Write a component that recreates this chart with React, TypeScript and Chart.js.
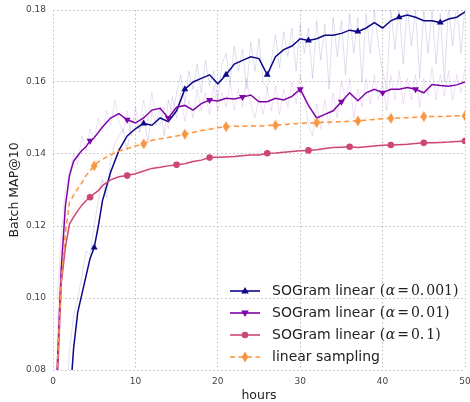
import React, { useEffect, useRef } from 'react';
import { Chart, registerables } from 'chart.js';

Chart.register(...registerables);

// ---- data ----
const hours = [0, 0.5, 1, 1.5, 2, 2.5, 3, 3.5, 4, 4.5, 5, 5.5, 6, 7, 8, 9, 10, 11, 12, 13, 14, 15, 16, 17, 18, 19, 20, 21, 22, 23, 24, 25, 26, 27, 28, 29, 30, 31, 32, 33, 34, 35, 36, 37, 38, 39, 40, 41, 42, 43, 44, 45, 46, 47, 48, 49, 50];

const blueVals = [0.03, 0.04, 0.05, 0.06, 0.07, 0.086, 0.096, 0.101, 0.106, 0.111, 0.114, 0.12, 0.127, 0.135, 0.141, 0.145, 0.147, 0.1485, 0.148, 0.15, 0.149, 0.152, 0.158, 0.16, 0.161, 0.162, 0.1595, 0.162, 0.165, 0.166, 0.167, 0.1665, 0.162, 0.167, 0.169, 0.17, 0.172, 0.1715, 0.172, 0.173, 0.173, 0.1735, 0.1744, 0.174, 0.175, 0.1765, 0.175, 0.177, 0.178, 0.1786, 0.178, 0.177, 0.177, 0.1765, 0.1775, 0.178, 0.1795];

const purpleVals = [0.04, 0.08, 0.108, 0.1255, 0.134, 0.138, 0.1395, 0.141, 0.142, 0.1437, 0.1445, 0.146, 0.1475, 0.15, 0.1512, 0.1495, 0.1486, 0.15, 0.1522, 0.1527, 0.15, 0.153, 0.1535, 0.1522, 0.154, 0.155, 0.1547, 0.1555, 0.1553, 0.1558, 0.1564, 0.1545, 0.1545, 0.1555, 0.155, 0.156, 0.158, 0.1535, 0.15, 0.151, 0.152, 0.1545, 0.157, 0.1548, 0.157, 0.158, 0.157, 0.158, 0.158, 0.1585, 0.158, 0.157, 0.1593, 0.159, 0.1588, 0.1592, 0.16];

const pinkVals = [0.04, 0.075, 0.104, 0.114, 0.1205, 0.1225, 0.1242, 0.1258, 0.127, 0.128, 0.129, 0.1298, 0.1312, 0.1328, 0.1337, 0.134, 0.1345, 0.1353, 0.136, 0.1363, 0.1367, 0.137, 0.1373, 0.1379, 0.1383, 0.139, 0.1391, 0.1392, 0.1393, 0.1395, 0.1397, 0.1397, 0.1402, 0.1403, 0.1405, 0.1407, 0.1409, 0.141, 0.1412, 0.1415, 0.1418, 0.1419, 0.142, 0.1418, 0.142, 0.1422, 0.1424, 0.1425, 0.1426, 0.1427, 0.1429, 0.1431, 0.1431, 0.1432, 0.1433, 0.1435, 0.1436];

const orangeVals = [0.05, 0.08, 0.105, 0.118, 0.1265, 0.1285, 0.1303, 0.132, 0.134, 0.1353, 0.1367, 0.1378, 0.1385, 0.1398, 0.1408, 0.1415, 0.1422, 0.1428, 0.1438, 0.1442, 0.1446, 0.145, 0.1455, 0.146, 0.1465, 0.1469, 0.1473, 0.1476, 0.1477, 0.1477, 0.1478, 0.1478, 0.1479, 0.148, 0.1482, 0.1484, 0.1485, 0.1486, 0.1487, 0.1488, 0.1489, 0.149, 0.1491, 0.1492, 0.1494, 0.1496, 0.1498, 0.1499, 0.15, 0.1501, 0.1502, 0.1504, 0.1504, 0.1504, 0.1505, 0.1506, 0.1506];

// hours at which each smoothed curve carries a marker
const blueMarks = [5, 11, 16, 21, 26, 31, 37, 42, 47];
const purpleMarks = [4.5, 9, 14, 19, 23, 30, 35, 40, 44];
const pinkMarks = [4.5, 9, 15, 19, 26, 31, 36, 41, 45, 50];
const orangeMarks = [5, 11, 16, 21, 27, 32, 37, 41, 45, 50];

// raw (unsmoothed) batch values
const rawHours = [0.5, 1, 1.5, 2, 2.5, 3, 3.5, 4, 4.5, 5, 5.5, 6, 6.5, 7, 7.5, 8, 8.5, 9, 9.5, 10, 10.5, 11, 11.5, 12, 12.5, 13, 13.5, 14, 14.5, 15, 15.5, 16, 16.5, 17, 17.5, 18, 18.5, 19, 19.5, 20, 20.5, 21, 21.5, 22, 22.5, 23, 23.5, 24, 24.5, 25, 25.5, 26, 26.5, 27, 27.5, 28, 28.5, 29, 29.5, 30, 30.5, 31, 31.5, 32, 32.5, 33, 33.5, 34, 34.5, 35, 35.5, 36, 36.5, 37, 37.5, 38, 38.5, 39, 39.5, 40, 40.5, 41, 41.5, 42, 42.5, 43, 43.5, 44, 44.5, 45, 45.5, 46, 46.5, 47, 47.5, 48, 48.5, 49, 49.5, 50];

const blueRaw = [0.05, 0.06, 0.07, 0.085, 0.095, 0.1, 0.106, 0.113, 0.112, 0.12, 0.127, 0.133, 0.128, 0.138, 0.143, 0.145, 0.147, 0.141, 0.149, 0.15, 0.146, 0.151, 0.143, 0.152, 0.148, 0.153, 0.145, 0.155, 0.151, 0.157, 0.162, 0.154, 0.163, 0.158, 0.165, 0.157, 0.166, 0.159, 0.163, 0.155, 0.165, 0.168, 0.16, 0.17, 0.163, 0.169, 0.158, 0.171, 0.163, 0.172, 0.16, 0.158, 0.166, 0.173, 0.164, 0.174, 0.167, 0.175, 0.163, 0.176, 0.168, 0.175, 0.161, 0.177, 0.166, 0.176, 0.158, 0.178, 0.167, 0.177, 0.162, 0.179, 0.168, 0.178, 0.16, 0.179, 0.168, 0.18, 0.17, 0.163, 0.158, 0.18, 0.169, 0.181, 0.165, 0.181, 0.17, 0.18, 0.161, 0.18, 0.168, 0.18, 0.165, 0.179, 0.16, 0.181, 0.17, 0.182, 0.168, 0.181];

const purpleRaw = [0.1, 0.118, 0.13, 0.135, 0.14, 0.137, 0.145, 0.141, 0.147, 0.144, 0.15, 0.146, 0.152, 0.148, 0.155, 0.149, 0.146, 0.152, 0.145, 0.153, 0.147, 0.155, 0.149, 0.157, 0.15, 0.148, 0.153, 0.147, 0.156, 0.15, 0.157, 0.149, 0.155, 0.15, 0.158, 0.152, 0.157, 0.151, 0.159, 0.152, 0.157, 0.153, 0.16, 0.152, 0.158, 0.153, 0.161, 0.154, 0.15, 0.156, 0.151, 0.158, 0.152, 0.159, 0.151, 0.158, 0.153, 0.16, 0.154, 0.162, 0.156, 0.148, 0.145, 0.154, 0.147, 0.155, 0.148, 0.157, 0.15, 0.16, 0.155, 0.161, 0.15, 0.158, 0.153, 0.161, 0.154, 0.162, 0.155, 0.16, 0.152, 0.162, 0.155, 0.163, 0.154, 0.161, 0.155, 0.162, 0.153, 0.161, 0.156, 0.164, 0.155, 0.162, 0.156, 0.163, 0.155, 0.162, 0.157, 0.164];

const pinkRaw = [0.09, 0.108, 0.117, 0.122, 0.124, 0.1255, 0.127, 0.1285, 0.129, 0.1305, 0.13, 0.1325, 0.132, 0.1338, 0.1333, 0.1345, 0.134, 0.1352, 0.1345, 0.1358, 0.135, 0.1365, 0.1357, 0.137, 0.1362, 0.1375, 0.1365, 0.1378, 0.1368, 0.1383, 0.1372, 0.1385, 0.1376, 0.139, 0.138, 0.1395, 0.1385, 0.14, 0.1388, 0.1402, 0.139, 0.1403, 0.139, 0.1405, 0.1392, 0.1406, 0.1394, 0.1408, 0.1395, 0.141, 0.1398, 0.1412, 0.14, 0.1413, 0.1401, 0.1415, 0.1403, 0.1417, 0.1405, 0.1419, 0.1407, 0.142, 0.1408, 0.1422, 0.141, 0.1425, 0.1412, 0.1428, 0.1415, 0.1429, 0.1416, 0.143, 0.1416, 0.1428, 0.1416, 0.143, 0.1418, 0.1432, 0.142, 0.1434, 0.1421, 0.1435, 0.1422, 0.1436, 0.1423, 0.1437, 0.1424, 0.1439, 0.1426, 0.1441, 0.1428, 0.1441, 0.1428, 0.1442, 0.1429, 0.1443, 0.143, 0.1445, 0.1432, 0.1446];

const orangeRaw = [0.094, 0.113, 0.12, 0.128, 0.1292, 0.1315, 0.1328, 0.1352, 0.1358, 0.1378, 0.1382, 0.1395, 0.1394, 0.1407, 0.1405, 0.1417, 0.1413, 0.1424, 0.142, 0.143, 0.1425, 0.1437, 0.1432, 0.1446, 0.1438, 0.145, 0.1442, 0.1454, 0.1446, 0.1458, 0.145, 0.1463, 0.1455, 0.1468, 0.146, 0.1473, 0.1464, 0.1477, 0.1468, 0.1481, 0.1472, 0.1484, 0.1473, 0.1485, 0.1474, 0.1485, 0.1474, 0.1486, 0.1475, 0.1486, 0.1475, 0.1487, 0.1476, 0.1488, 0.1478, 0.149, 0.148, 0.1492, 0.1481, 0.1493, 0.1482, 0.1494, 0.1483, 0.1495, 0.1484, 0.1496, 0.1485, 0.1497, 0.1486, 0.1498, 0.1487, 0.1499, 0.1488, 0.15, 0.149, 0.1502, 0.1492, 0.1504, 0.1494, 0.1506, 0.1495, 0.1507, 0.1496, 0.1508, 0.1497, 0.1509, 0.1498, 0.151, 0.1499, 0.1512, 0.15, 0.1512, 0.15, 0.1512, 0.1501, 0.1513, 0.1502, 0.1514, 0.1503, 0.1514];

const xTicks = [0, 10, 20, 30, 40, 50];
const yTicks = [0.08, 0.1, 0.12, 0.14, 0.16, 0.18];

const seriesLabels = ['SOGram linear', 'SOGram linear', 'SOGram linear', 'linear sampling'];
const alphaLabels = ['0.001', '0.01', '0.1', ''];

// ---- styles ----
const BLUE = '#0d0887';
const PURPLE = '#7e03a8';
const PINK = '#cc4778';
const ORANGE = '#f89540';
const SANS = '"DejaVu Sans", sans-serif';
const SERIF = '"DejaVu Serif", serif';

function makeDiamond(color: string): HTMLCanvasElement {
  const c = document.createElement('canvas');
  c.width = 8;
  c.height = 12;
  const g = c.getContext('2d')!;
  g.fillStyle = color;
  g.beginPath();
  g.moveTo(4, 0.5);
  g.lineTo(7.3, 6);
  g.lineTo(4, 11.5);
  g.lineTo(0.7, 6);
  g.closePath();
  g.fill();
  return c;
}

function pts(xs: number[], ys: number[]) {
  return xs.map((x, i) => ({ x, y: ys[i] }));
}

function markerRadius(marks: number[], r: number) {
  return (ctx: any) => (marks.includes(hours[ctx.dataIndex]) ? r : 0);
}

const legendPlugin = {
  id: 'customLegend',
  afterDraw(chart: any) {
    const ctx = chart.ctx as CanvasRenderingContext2D;
    const colors = [BLUE, PURPLE, PINK, ORANGE];
    const x0 = 230;
    const x1 = 260;
    const tx = 272;
    ctx.save();
    for (let i = 0; i < 4; i++) {
      const y = 291 + i * 22;
      const col = colors[i];
      ctx.strokeStyle = col;
      ctx.fillStyle = col;
      ctx.lineWidth = 1.6;
      ctx.setLineDash(i === 3 ? [5, 3.5] : []);
      ctx.beginPath();
      ctx.moveTo(x0, y);
      ctx.lineTo(x1, y);
      ctx.stroke();
      ctx.setLineDash([]);
      const cx = (x0 + x1) / 2;
      ctx.beginPath();
      if (i === 0) {
        ctx.moveTo(cx, y - 4);
        ctx.lineTo(cx + 3.8, y + 2.5);
        ctx.lineTo(cx - 3.8, y + 2.5);
      } else if (i === 1) {
        ctx.moveTo(cx, y + 4);
        ctx.lineTo(cx + 3.8, y - 2.5);
        ctx.lineTo(cx - 3.8, y - 2.5);
      } else if (i === 2) {
        ctx.arc(cx, y, 3.3, 0, Math.PI * 2);
      } else {
        ctx.moveTo(cx, y - 5.5);
        ctx.lineTo(cx + 3.3, y);
        ctx.lineTo(cx, y + 5.5);
        ctx.lineTo(cx - 3.3, y);
      }
      ctx.closePath();
      ctx.fill();

      ctx.fillStyle = '#222';
      ctx.textBaseline = 'middle';
      ctx.textAlign = 'left';
      ctx.font = `14px ${SANS}`;
      let x = tx;
      const lab = seriesLabels[i];
      ctx.fillText(lab, x, y);
      x += ctx.measureText(lab).width;
      const a = alphaLabels[i];
      if (a) {
        x += 5;
        ctx.font = `14px ${SERIF}`;
        ctx.fillText('(', x, y);
        x += ctx.measureText('(').width + 0.5;
        ctx.font = `italic 14px ${SERIF}`;
        ctx.fillText('α', x, y);
        x += ctx.measureText('α').width + 2;
        ctx.font = `14px ${SERIF}`;
        ctx.fillText('=', x, y);
        x += ctx.measureText('=').width + 2;
        const parts = a.split('.');
        ctx.fillText(parts[0] + '.', x, y);
        x += ctx.measureText(parts[0] + '.').width + 2;
        ctx.fillText(parts[1], x, y);
        x += ctx.measureText(parts[1]).width;
        ctx.fillText(')', x, y);
      }
    }
    ctx.restore();
  },
};

export default function App() {
  const ref = useRef<HTMLCanvasElement>(null);

  useEffect(() => {
    document.body.style.margin = '0';
    const canvas = ref.current!;
    const diamond = makeDiamond(ORANGE);

    const rawLine = (data: number[], color: string, order: number) => ({
      data: pts(rawHours, data),
      borderColor: color,
      borderWidth: 1,
      pointRadius: 0,
      tension: 0,
      order,
    });

    const chart = new Chart(canvas, {
      type: 'line',
      data: {
        datasets: [
          rawLine(blueRaw, 'rgba(13,8,135,0.13)', 10),
          rawLine(purpleRaw, 'rgba(126,3,168,0.12)', 9),
          rawLine(pinkRaw, 'rgba(204,71,120,0.12)', 8),
          rawLine(orangeRaw, 'rgba(248,149,64,0.15)', 7),
          {
            data: pts(hours, blueVals),
            borderColor: BLUE,
            backgroundColor: BLUE,
            borderWidth: 1.5,
            tension: 0,
            pointStyle: 'triangle',
            pointRadius: markerRadius(blueMarks, 4),
            pointBorderWidth: 0,
            order: 3,
          },
          {
            data: pts(hours, purpleVals),
            borderColor: PURPLE,
            backgroundColor: PURPLE,
            borderWidth: 1.5,
            tension: 0,
            pointStyle: 'triangle',
            rotation: 180,
            pointRadius: markerRadius(purpleMarks, 4),
            pointBorderWidth: 0,
            order: 2,
          },
          {
            data: pts(hours, pinkVals),
            borderColor: PINK,
            backgroundColor: PINK,
            borderWidth: 1.5,
            tension: 0,
            pointStyle: 'circle',
            pointRadius: markerRadius(pinkMarks, 3.3),
            pointBorderWidth: 0,
            order: 1,
          },
          {
            data: pts(hours, orangeVals),
            borderColor: ORANGE,
            backgroundColor: ORANGE,
            borderWidth: 1.5,
            borderDash: [5, 3.5],
            tension: 0,
            pointStyle: (ctx: any) => (orangeMarks.includes(hours[ctx.dataIndex]) ? diamond : false),
            pointRadius: markerRadius(orangeMarks, 4),
            pointBorderWidth: 0,
            order: 0,
          },
        ] as any,
      },
      options: {
        animation: false,
        responsive: false,
        events: [],
        layout: { padding: { top: 10, right: 5, left: 0, bottom: 0 } },
        plugins: { legend: { display: false }, tooltip: { enabled: false } },
        scales: {
          x: {
            type: 'linear',
            min: 0,
            max: 50,
            afterBuildTicks: (s: any) => {
              s.ticks = xTicks.map((v) => ({ value: v }));
            },
            afterFit: (s: any) => {
              s.height = 32;
              s.paddingLeft = 0;
              s.paddingRight = 0;
            },
            border: { display: false, dash: [1.5, 2.5] },
            grid: { color: '#bdbdbd', lineWidth: 1, drawTicks: false },
            ticks: {
              padding: 6,
              color: '#444',
              font: { family: SANS, size: 9 },
              callback: (v: any) => String(v),
            },
            title: {
              display: true,
              text: 'hours',
              color: '#222',
              font: { family: SANS, size: 12.5, lineHeight: 1 },
              padding: { top: 0, bottom: 0 },
            },
          },
          y: {
            type: 'linear',
            min: 0.08,
            max: 0.18,
            afterBuildTicks: (s: any) => {
              s.ticks = yTicks.map((v) => ({ value: v }));
            },
            afterFit: (s: any) => {
              s.width = 53;
              s.paddingTop = 0;
              s.paddingBottom = 0;
            },
            border: { display: false, dash: [1.5, 2.5] },
            grid: { color: '#bdbdbd', lineWidth: 1, drawTicks: false },
            ticks: {
              padding: 7,
              color: '#444',
              font: { family: SANS, size: 9 },
              callback: (v: any) => Number(v).toFixed(2),
            },
            title: {
              display: true,
              text: 'Batch MAP@10',
              color: '#222',
              font: { family: SANS, size: 12.5, lineHeight: 1 },
              padding: { top: 8, bottom: 0 },
            },
          },
        },
      } as any,
      plugins: [legendPlugin],
    });

    return () => chart.destroy();
  }, []);

  return (
    <div style={{ width: 470, height: 402, position: 'relative' }}>
      <canvas ref={ref} width={470} height={402} style={{ display: 'block' }} />
    </div>
  );
}
